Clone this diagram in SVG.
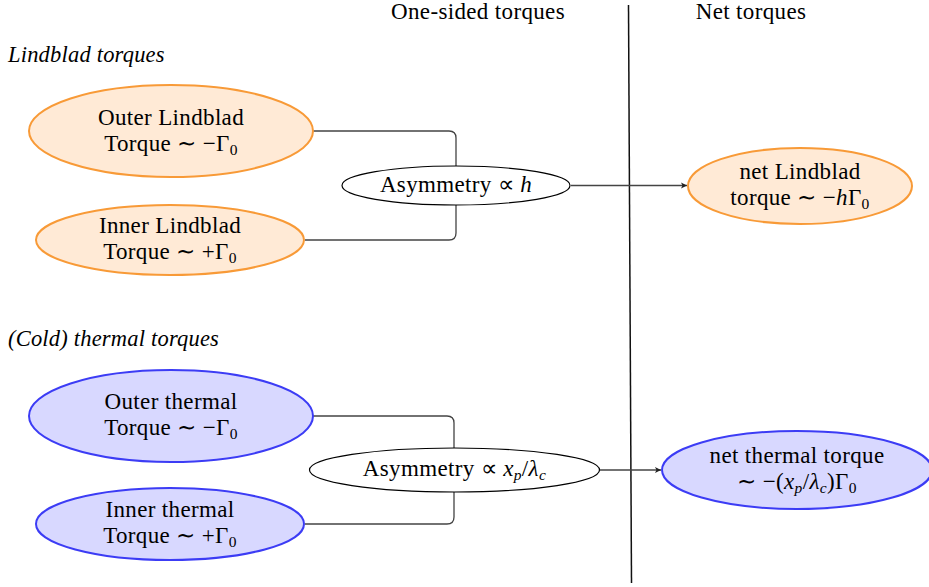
<svg xmlns="http://www.w3.org/2000/svg" width="929" height="587" viewBox="0 0 929 587">
<style>
text{font-family:'Liberation Serif','Times New Roman',Times,serif;font-size:23px;letter-spacing:0.35px;fill:#000;text-anchor:middle}
.sec{font-style:italic;text-anchor:start;font-size:22.5px;letter-spacing:0.2px}
.m{font-style:italic}
.sub{font-size:15.5px}
.lb{fill:#ffead6;stroke:#f89a37;stroke-width:2}
.th{fill:#d8d8ff;stroke:#3c3cf5;stroke-width:2}
.as{fill:#fff;stroke:#000;stroke-width:1.2}
.cn{fill:none;stroke:#444;stroke-width:1.3}
</style>
<defs>
<marker id="ar" markerWidth="8" markerHeight="8" refX="7" refY="4" orient="auto" markerUnits="userSpaceOnUse">
<path d="M1,1 L7,4 L1,7 L2.5,4 Z" fill="#222"/>
</marker>
</defs>
<text x="478" y="19">One-sided torques</text>
<text x="751" y="19">Net torques</text>
<text class="sec" x="8" y="62">Lindblad torques</text>
<text class="sec" x="8" y="346">(Cold) thermal torques</text>
<line x1="628.5" y1="5" x2="631.5" y2="583" stroke="#111" stroke-width="1.5"/>
<g id="connectors">
<path class="cn" d="M313,131 H449 Q456,131 456,138 V166"/>
<path class="cn" d="M305,240 H449 Q456,240 456,233 V205"/>
<path class="cn" d="M571,185.5 H687" marker-end="url(#ar)"/>
<path class="cn" d="M313,416 H447 Q454,416 454,423 V448"/>
<path class="cn" d="M305,524 H447 Q454,524 454,517 V492"/>
<path class="cn" d="M600,470 H661" marker-end="url(#ar)"/>
</g>
<g id="outer-lindblad">
<ellipse class="lb" cx="171" cy="131" rx="142" ry="46"/>
<text x="171" y="125">Outer Lindblad</text>
<text x="171" y="151">Torque ∼ −Γ<tspan class="sub" dy="4">0</tspan></text>
</g>
<g id="inner-lindblad">
<ellipse class="lb" cx="170" cy="240" rx="134" ry="35"/>
<text x="170" y="233">Inner Lindblad</text>
<text x="170" y="259">Torque ∼ +Γ<tspan class="sub" dy="4">0</tspan></text>
</g>
<g id="asym-h">
<ellipse class="as" cx="456" cy="185.5" rx="114" ry="19.5"/>
<text x="456" y="192">Asymmetry ∝ <tspan class="m">h</tspan></text>
</g>
<g id="net-lindblad">
<ellipse class="lb" cx="800" cy="186" rx="112" ry="38"/>
<text x="800" y="179">net Lindblad</text>
<text x="800" y="205">torque ∼ −<tspan class="m">h</tspan>Γ<tspan class="sub" dy="4">0</tspan></text>
</g>
<g id="outer-thermal">
<ellipse class="th" cx="171" cy="416" rx="142" ry="46"/>
<text x="171" y="409">Outer thermal</text>
<text x="171" y="435">Torque ∼ −Γ<tspan class="sub" dy="4">0</tspan></text>
</g>
<g id="inner-thermal">
<ellipse class="th" cx="170" cy="524" rx="134" ry="36"/>
<text x="170" y="517">Inner thermal</text>
<text x="170" y="543">Torque ∼ +Γ<tspan class="sub" dy="4">0</tspan></text>
</g>
<g id="asym-x">
<ellipse class="as" cx="454.5" cy="470" rx="145" ry="22"/>
<text x="454.5" y="476">Asymmetry ∝ <tspan class="m">x</tspan><tspan class="sub m" dy="4">p</tspan><tspan dy="-4">/</tspan><tspan class="m">λ</tspan><tspan class="sub m" dy="4">c</tspan></text>
</g>
<g id="net-thermal">
<ellipse class="th" cx="797" cy="470" rx="135" ry="39"/>
<text x="797" y="463">net thermal torque</text>
<text x="797" y="489">∼ −(<tspan class="m">x</tspan><tspan class="sub m" dy="4">p</tspan><tspan dy="-4">/</tspan><tspan class="m">λ</tspan><tspan class="sub m" dy="4">c</tspan><tspan dy="-4">)Γ</tspan><tspan class="sub" dy="4">0</tspan></text>
</g>
</svg>
